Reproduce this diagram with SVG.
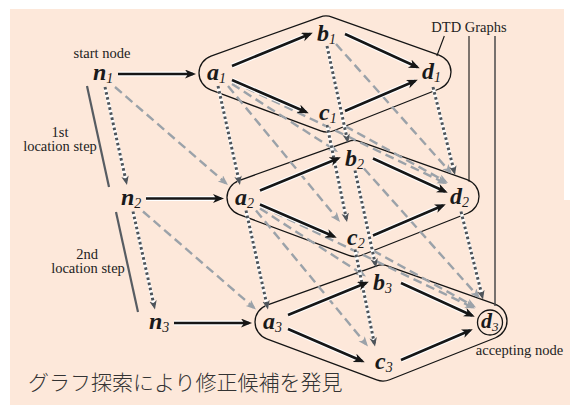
<svg xmlns="http://www.w3.org/2000/svg" width="570" height="405" viewBox="0 0 570 405">
<style>
.cap{fill:none;stroke:#141414;stroke-width:1.3}
.halo{fill:none;stroke:#ffffff;stroke-width:4.8}
.solid{fill:none;stroke:#161616;stroke-width:2.6}
.dotbase{fill:none;stroke:#ffffff;stroke-width:3.4}
.dot{fill:none;stroke:#4e545a;stroke-width:3;stroke-dasharray:2.6 2.6}
.dash{fill:none;stroke:#9ba2a9;stroke-width:2.4;stroke-dasharray:9 5}
.step{stroke:#575c62;stroke-width:2.2}
.lead{stroke:#141414;stroke-width:1.1}
.lbl{font-family:"Liberation Serif",serif;font-style:italic;font-weight:bold;font-size:24px;fill:#1a1a1a}
.sub{font-size:14px;font-weight:normal}
.note{font-family:"Liberation Serif",serif;font-size:14.5px;fill:#222}
.jp{font-family:"Noto Sans CJK JP",sans-serif;font-size:21px;font-weight:300;fill:#333}
</style>
<defs>
<marker id="arrS" markerUnits="userSpaceOnUse" markerWidth="12" markerHeight="10" refX="8" refY="4.5" orient="auto"><path d="M0,0 L11,4.5 L0,9 L3,4.5 Z" fill="#161616" stroke="none"/></marker>
<marker id="arrDot" markerUnits="userSpaceOnUse" markerWidth="10" markerHeight="8" refX="6" refY="3.75" orient="auto"><path d="M0,0 L9,3.75 L0,7.5 L2.5,3.75 Z" fill="#4e545a" stroke="none"/></marker>
<marker id="arrDash" markerUnits="userSpaceOnUse" markerWidth="11" markerHeight="9" refX="7" refY="4" orient="auto"><path d="M0,0 L10,4 L0,8 L2.5,4 Z" fill="#9ba2a9" stroke="none"/></marker>
<path id="capsule" d="M210.94,56.05 L319.94,17.05 A18,18 0 0 1 332.02,17.04 L439.02,55.04 A18,18 0 0 1 439.63,88.73 L333.63,130.73 A18,18 0 0 1 320.71,130.87 L210.71,89.87 A18,18 0 0 1 210.94,56.05 Z"/>
</defs>
<rect x="10" y="9" width="554" height="396" fill="#fde8da"/>
<rect x="563" y="200" width="7" height="205" fill="#fde8da"/>

<g id="dtd-graphs">
<use href="#capsule" class="cap"/>
<use href="#capsule" class="cap" transform="translate(28,124.5)"/>
<use href="#capsule" class="cap" transform="translate(56,249)"/>
<circle cx="490" cy="322.5" r="12.5" class="cap"/>
</g>

<g id="connectors">
<!-- dashed level 1 to 2 -->
<path class="dash" marker-end="url(#arrDash)" d="M115,87 L225.7,183"/>
<path class="dash" marker-end="url(#arrDash)" d="M232,84 L335.5,150.4"/>
<path class="dash" marker-end="url(#arrDash)" d="M228,86 L338.1,219.7"/>
<path class="dash" marker-end="url(#arrDash)" d="M234,82 L444.3,182.7"/>
<path class="dash" marker-end="url(#arrDash)" d="M336,44 L450,171.8"/>
<path class="dash" marker-end="url(#arrDash)" d="M345,126 L445.4,181.5"/>
<!-- dashed level 2 to 3 -->
<path class="dash" marker-end="url(#arrDash)" d="M143,211.5 L253.7,307.5"/>
<path class="dash" marker-end="url(#arrDash)" d="M260,208.5 L363.5,274.9"/>
<path class="dash" marker-end="url(#arrDash)" d="M256,210.5 L366.1,344.2"/>
<path class="dash" marker-end="url(#arrDash)" d="M262,206.5 L472.3,307.2"/>
<path class="dash" marker-end="url(#arrDash)" d="M364,168.5 L478,296.3"/>
<path class="dash" marker-end="url(#arrDash)" d="M373,250.5 L473.4,306"/>
<!-- dotted level 1 to 2 -->
<path class="dotbase" d="M105,87 L126.3,182.1"/><path class="dot" marker-end="url(#arrDot)" d="M105,87 L126.3,182.1"/>
<path class="dotbase" d="M218,86 L239.3,182.1"/><path class="dot" marker-end="url(#arrDot)" d="M218,86 L239.3,182.1"/>
<path class="dotbase" d="M327,46 L347.4,140.1"/><path class="dot" marker-end="url(#arrDot)" d="M327,46 L347.4,140.1"/>
<path class="dotbase" d="M327,125 L346.4,219.1"/><path class="dot" marker-end="url(#arrDot)" d="M327,125 L346.4,219.1"/>
<path class="dotbase" d="M433,87 L454.3,172.1"/><path class="dot" marker-end="url(#arrDot)" d="M433,87 L454.3,172.1"/>
<!-- dotted level 2 to 3 -->
<path class="dotbase" d="M133,211.5 L154.3,306.6"/><path class="dot" marker-end="url(#arrDot)" d="M133,211.5 L154.3,306.6"/>
<path class="dotbase" d="M246,210.5 L267.3,306.6"/><path class="dot" marker-end="url(#arrDot)" d="M246,210.5 L267.3,306.6"/>
<path class="dotbase" d="M355,170.5 L375.4,264.6"/><path class="dot" marker-end="url(#arrDot)" d="M355,170.5 L375.4,264.6"/>
<path class="dotbase" d="M355,249.5 L374.4,343.6"/><path class="dot" marker-end="url(#arrDot)" d="M355,249.5 L374.4,343.6"/>
<path class="dotbase" d="M461,211.5 L482.3,296.6"/><path class="dot" marker-end="url(#arrDot)" d="M461,211.5 L482.3,296.6"/>
<!-- solid level 1 -->
<path class="halo" d="M118,74 L193,74"/><path class="solid" marker-end="url(#arrS)" d="M118,74 L193,74"/>
<path class="halo" d="M232,66 L310,34"/><path class="solid" marker-end="url(#arrS)" d="M232,66 L310,34"/>
<path class="halo" d="M232,80 L306,112"/><path class="solid" marker-end="url(#arrS)" d="M232,80 L306,112"/>
<path class="halo" d="M345,34 L417,67"/><path class="solid" marker-end="url(#arrS)" d="M345,34 L417,67"/>
<path class="halo" d="M345,111 L415,81"/><path class="solid" marker-end="url(#arrS)" d="M345,111 L415,81"/>
<!-- solid level 2 -->
<path class="halo" d="M146,198.5 L221,198.5"/><path class="solid" marker-end="url(#arrS)" d="M146,198.5 L221,198.5"/>
<path class="halo" d="M260,190.5 L338,158.5"/><path class="solid" marker-end="url(#arrS)" d="M260,190.5 L338,158.5"/>
<path class="halo" d="M260,204.5 L334,236.5"/><path class="solid" marker-end="url(#arrS)" d="M260,204.5 L334,236.5"/>
<path class="halo" d="M373,158.5 L445,191.5"/><path class="solid" marker-end="url(#arrS)" d="M373,158.5 L445,191.5"/>
<path class="halo" d="M373,235.5 L443,205.5"/><path class="solid" marker-end="url(#arrS)" d="M373,235.5 L443,205.5"/>
<!-- solid level 3 -->
<path class="halo" d="M174,323 L249,323"/><path class="solid" marker-end="url(#arrS)" d="M174,323 L249,323"/>
<path class="halo" d="M288,315 L366,283"/><path class="solid" marker-end="url(#arrS)" d="M288,315 L366,283"/>
<path class="halo" d="M288,329 L362,361"/><path class="solid" marker-end="url(#arrS)" d="M288,329 L362,361"/>
<path class="halo" d="M401,283 L472,315.5"/><path class="solid" marker-end="url(#arrS)" d="M401,283 L472,315.5"/>
<path class="halo" d="M401,360 L470,330.5"/><path class="solid" marker-end="url(#arrS)" d="M401,360 L470,330.5"/>
</g>

<g id="annotations">
<line class="step" x1="87" y1="86" x2="109" y2="187"/>
<line class="step" x1="116" y1="212" x2="138" y2="312"/>
<line class="lead" x1="444.3" y1="36" x2="436.8" y2="56"/>
<line class="lead" x1="469" y1="36" x2="469" y2="181.5"/>
<line class="lead" x1="495" y1="36" x2="495" y2="306" style="stroke:#4a4a4a;stroke-width:1.5"/>
<text class="note" x="102" y="58" text-anchor="middle">start node</text>
<text class="note" x="60" y="136.5" text-anchor="middle">1st</text>
<text class="note" x="60" y="151" text-anchor="middle">location step</text>
<text class="note" x="87" y="258.5" text-anchor="middle">2nd</text>
<text class="note" x="88" y="273" text-anchor="middle">location step</text>
<text class="note" x="469" y="32" text-anchor="middle">DTD Graphs</text>
<text class="note" x="519.5" y="355" text-anchor="middle">accepting node</text>
<text class="jp" x="28" y="390">グラフ探索により修正候補を発見</text>
</g>

<g id="n1"><text class="lbl" x="93" y="80">n<tspan class="sub" dy="3">1</tspan></text></g>
<g id="a1"><text class="lbl" x="207" y="80">a<tspan class="sub" dy="3">1</tspan></text></g>
<g id="b1"><text class="lbl" x="317" y="41">b<tspan class="sub" dy="3">1</tspan></text></g>
<g id="c1"><text class="lbl" x="319" y="120">c<tspan class="sub" dy="3">1</tspan></text></g>
<g id="d1"><text class="lbl" x="422" y="79">d<tspan class="sub" dy="3">1</tspan></text></g>
<g id="n2"><text class="lbl" x="121" y="204.5">n<tspan class="sub" dy="3">2</tspan></text></g>
<g id="a2"><text class="lbl" x="235" y="204.5">a<tspan class="sub" dy="3">2</tspan></text></g>
<g id="b2"><text class="lbl" x="345" y="165.5">b<tspan class="sub" dy="3">2</tspan></text></g>
<g id="c2"><text class="lbl" x="347" y="244.5">c<tspan class="sub" dy="3">2</tspan></text></g>
<g id="d2"><text class="lbl" x="450" y="203.5">d<tspan class="sub" dy="3">2</tspan></text></g>
<g id="n3"><text class="lbl" x="149" y="329">n<tspan class="sub" dy="3">3</tspan></text></g>
<g id="a3"><text class="lbl" x="263" y="329">a<tspan class="sub" dy="3">3</tspan></text></g>
<g id="b3"><text class="lbl" x="373" y="290">b<tspan class="sub" dy="3">3</tspan></text></g>
<g id="c3"><text class="lbl" x="375" y="369">c<tspan class="sub" dy="3">3</tspan></text></g>
<g id="d3"><text class="lbl" x="481" y="328" style="font-size:22px">d<tspan class="sub" dy="3" style="font-size:13px">3</tspan></text></g>
</svg>
